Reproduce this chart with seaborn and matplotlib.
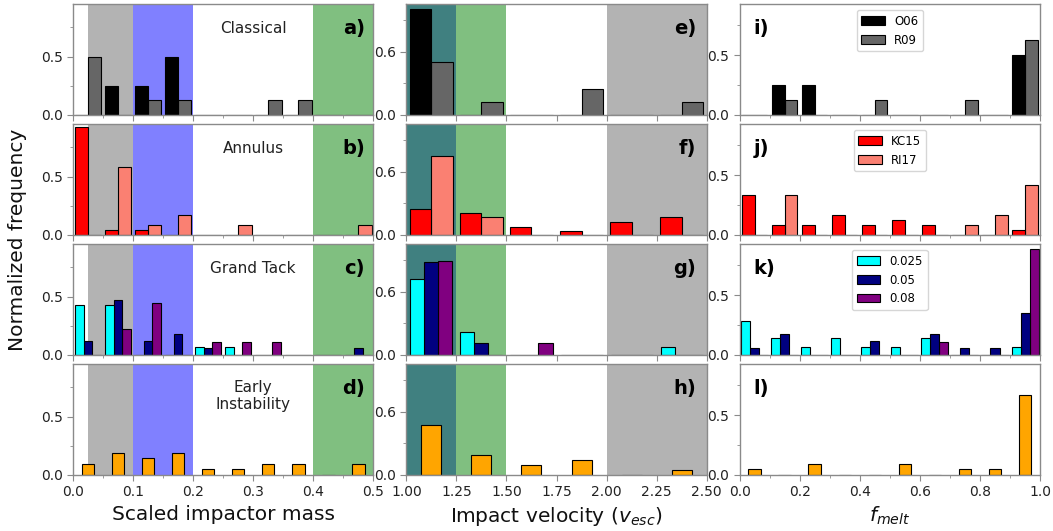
import numpy as np
import pandas as pd
import matplotlib
matplotlib.use("Agg")
import matplotlib.pyplot as plt
from matplotlib.patches import Patch
from matplotlib.ticker import MultipleLocator
import seaborn as sns

# ---------------- data ----------------
mass_centers = [0.025, 0.075, 0.125, 0.175, 0.225, 0.275, 0.325, 0.375, 0.425, 0.475]
vel_centers = [1.125, 1.375, 1.625, 1.875, 2.125, 2.375]
melt_centers = [0.05, 0.15, 0.25, 0.35, 0.45, 0.55, 0.65, 0.75, 0.85, 0.95]

classical_names = ["O06", "R09"]
annulus_names = ["KC15", "RI17"]
gt_names = ["0.025", "0.05", "0.08"]
ei_names = ["EI"]

# mass
mass_O06 = [0, 0.25, 0.25, 0.5, 0, 0, 0, 0, 0, 0]
mass_R09 = [0.5, 0, 0.125, 0.125, 0, 0, 0.125, 0.125, 0, 0]
mass_KC15 = [0.92, 0.04, 0.04, 0, 0, 0, 0, 0, 0, 0]
mass_RI17 = [0, 0.583, 0.083, 0.167, 0, 0.083, 0, 0, 0, 0.083]
mass_GT025 = [0.429, 0.429, 0, 0, 0.071, 0.071, 0, 0, 0, 0]
mass_GT05 = [0.118, 0.471, 0.118, 0.176, 0.059, 0, 0, 0, 0, 0.059]
mass_GT08 = [0, 0.222, 0.444, 0, 0.111, 0.111, 0.111, 0, 0, 0]
mass_EI = [0.095, 0.19, 0.143, 0.19, 0.048, 0.048, 0.095, 0.095, 0, 0.095]

# velocity
vel_O06 = [1.0, 0, 0, 0, 0, 0]
vel_R09 = [0.5, 0.125, 0, 0.25, 0, 0.125]
vel_KC15 = [0.25, 0.21, 0.08, 0.04, 0.125, 0.167]
vel_RI17 = [0.75, 0.167, 0, 0, 0, 0]
vel_GT025 = [0.714, 0.214, 0, 0, 0, 0.071]
vel_GT05 = [0.882, 0.118, 0, 0, 0, 0]
vel_GT08 = [0.889, 0, 0.111, 0, 0, 0]
vel_EI = [0.476, 0.19, 0.095, 0.143, 0, 0.048]

# melt fraction
melt_O06 = [0, 0.25, 0.25, 0, 0, 0, 0, 0, 0, 0.5]
melt_R09 = [0, 0.125, 0, 0, 0.125, 0, 0, 0.125, 0, 0.625]
melt_KC15 = [0.333, 0.083, 0.083, 0.167, 0.083, 0.125, 0.083, 0, 0, 0.042]
melt_RI17 = [0, 0.333, 0, 0, 0, 0, 0, 0.083, 0.167, 0.417]
melt_GT025 = [0.286, 0.143, 0.071, 0.143, 0.071, 0.071, 0.143, 0, 0, 0.071]
melt_GT05 = [0.059, 0.176, 0, 0, 0.118, 0, 0.176, 0.059, 0.059, 0.353]
melt_GT08 = [0, 0, 0, 0, 0, 0, 0.111, 0, 0, 0.889]
melt_EI = [0.048, 0, 0.095, 0, 0, 0.095, 0, 0.048, 0.048, 0.667]

row_titles = ["Classical", "Annulus", "Grand Tack", "Early\nInstability"]
panel_letters = [["a)", "e)", "i)"], ["b)", "f)", "j)"], ["c)", "g)", "k)"], ["d)", "h)", "l)"]]

classical_colors = ["black", "#666666"]
annulus_colors = ["#ff0000", "#fa8072"]
gt_colors = ["#00ffff", "#000080", "#800080"]
ei_colors = ["#ffa500"]

# ---------------- style ----------------
plt.rcParams.update({
    "font.family": ["DejaVu Sans"],
    "axes.edgecolor": "#8a8a8a",
    "axes.linewidth": 1.0,
    "xtick.color": "#8a8a8a",
    "ytick.color": "#8a8a8a",
    "xtick.labelcolor": "#222222",
    "ytick.labelcolor": "#222222",
    "xtick.labelsize": 10,
    "ytick.labelsize": 10,
    "xtick.major.size": 4,
    "ytick.major.size": 4,
    "xtick.minor.size": 2.5,
    "ytick.minor.size": 2.5,
})

fig, axes = plt.subplots(4, 3, figsize=(10.53, 5.31), dpi=100)
fig.subplots_adjust(left=0.0693, right=0.9877, bottom=0.1055, top=0.9925,
                    wspace=0.11, hspace=0.081)

def draw_panel(ax, centers, binw, names, values, colors, shrink):
    rows = []
    for n, vals in zip(names, values):
        for c, v in zip(centers, vals):
            rows.append((c, n, v))
    df = pd.DataFrame(rows, columns=["x", "series", "w"])
    lo = centers[0] - binw / 2
    hi = centers[-1] + binw / 2
    sns.histplot(data=df, x="x", weights="w", hue="series", hue_order=names,
                 palette=dict(zip(names, colors)), binwidth=binw, binrange=(lo, hi),
                 multiple="dodge", shrink=shrink, alpha=1, edgecolor="black",
                 linewidth=0.8, legend=False, ax=ax, zorder=2)

mass_sets = [
    (classical_names, [mass_O06, mass_R09], classical_colors),
    (annulus_names, [mass_KC15, mass_RI17], annulus_colors),
    (gt_names, [mass_GT025, mass_GT05, mass_GT08], gt_colors),
    (ei_names, [mass_EI], ei_colors),
]
vel_sets = [
    (classical_names, [vel_O06, vel_R09], classical_colors),
    (annulus_names, [vel_KC15, vel_RI17], annulus_colors),
    (gt_names, [vel_GT025, vel_GT05, vel_GT08], gt_colors),
    (ei_names, [vel_EI], ei_colors),
]
melt_sets = [
    (classical_names, [melt_O06, melt_R09], classical_colors),
    (annulus_names, [melt_KC15, melt_RI17], annulus_colors),
    (gt_names, [melt_GT025, melt_GT05, melt_GT08], gt_colors),
    (ei_names, [melt_EI], ei_colors),
]

GRAY = "#b3b3b3"
BLUE = "#8080ff"
GREEN = "#80bf80"
TEAL = "#408080"

for r in range(4):
    # ---- column 1: mass ----
    ax = axes[r, 0]
    ax.axvspan(0.025, 0.1, color=GRAY, lw=0, zorder=0)
    ax.axvspan(0.1, 0.2, color=BLUE, lw=0, zorder=0)
    ax.axvspan(0.4, 0.5, color=GREEN, lw=0, zorder=0)
    names, vals, cols = mass_sets[r]
    shrink = 0.42 if len(names) == 1 else (0.86 if len(names) == 3 else 0.89)
    draw_panel(ax, mass_centers, 0.05, names, vals, cols, shrink)
    ax.set_xlim(0, 0.5)
    ax.set_ylim(0, 0.95)
    ax.xaxis.set_major_locator(MultipleLocator(0.1))
    ax.xaxis.set_minor_locator(MultipleLocator(0.05))
    ax.yaxis.set_major_locator(MultipleLocator(0.5))
    ax.yaxis.set_minor_locator(MultipleLocator(0.25))
    ax.text(0.6, 0.71 if r == 3 else 0.775, row_titles[r], transform=ax.transAxes,
            ha="center", va="center", fontsize=11, color="#222222")
    ax.text(0.972, 0.775, panel_letters[r][0], transform=ax.transAxes,
            ha="right", va="center", fontsize=14, fontweight="bold")

    # ---- column 2: velocity ----
    ax = axes[r, 1]
    ax.axvspan(1.0, 1.25, color=TEAL, lw=0, zorder=0)
    ax.axvspan(1.25, 1.5, color=GREEN, lw=0, zorder=0)
    ax.axvspan(2.0, 2.5, color=GRAY, lw=0, zorder=0)
    names, vals, cols = vel_sets[r]
    shrink = 0.40 if len(names) == 1 else (0.84 if len(names) == 3 else 0.86)
    draw_panel(ax, vel_centers, 0.25, names, vals, cols, shrink)
    ax.set_xlim(1.0, 2.5)
    ax.set_ylim(0, 1.05)
    ax.xaxis.set_major_locator(MultipleLocator(0.25))
    ax.yaxis.set_major_locator(MultipleLocator(0.6))
    ax.yaxis.set_minor_locator(MultipleLocator(0.3))
    ax.text(0.965, 0.775, panel_letters[r][1], transform=ax.transAxes,
            ha="right", va="center", fontsize=14, fontweight="bold")

    # ---- column 3: melt fraction ----
    ax = axes[r, 2]
    names, vals, cols = melt_sets[r]
    shrink = 0.42 if len(names) == 1 else (0.9 if len(names) == 3 else 0.84)
    draw_panel(ax, melt_centers, 0.1, names, vals, cols, shrink)
    ax.set_xlim(0, 1.0)
    ax.set_ylim(0, 0.93)
    ax.xaxis.set_major_locator(MultipleLocator(0.2))
    ax.xaxis.set_minor_locator(MultipleLocator(0.1))
    ax.yaxis.set_major_locator(MultipleLocator(0.5))
    ax.yaxis.set_minor_locator(MultipleLocator(0.25))
    ax.text(0.045, 0.78, panel_letters[r][2], transform=ax.transAxes,
            ha="left", va="center", fontsize=14, fontweight="bold")
    if r < 3:
        handles = [Patch(facecolor=c, edgecolor="black", linewidth=0.8) for c in cols]
        ax.legend(handles, names, loc="upper center", fontsize=8.5,
                  framealpha=0.8, edgecolor="#cccccc")

for r in range(4):
    for c in range(3):
        ax = axes[r, c]
        ax.set_ylabel("")
        ax.set_xlabel("")
        if r < 3:
            ax.tick_params(axis="x", which="both", labelbottom=False)

axes[3, 0].set_xlabel("Scaled impactor mass", fontsize=14.5, color="#111111")
axes[3, 1].set_xlabel("Impact velocity ($v_{esc}$)", fontsize=14.5, color="#111111")
axes[3, 2].set_xlabel("$f_{melt}$", fontsize=14.5, color="#111111")
fig.text(0.017, 0.549, "Normalized frequency", rotation=90, ha="center",
         va="center", fontsize=14.5, color="#111111")

fig.savefig("out.png", dpi=100)
